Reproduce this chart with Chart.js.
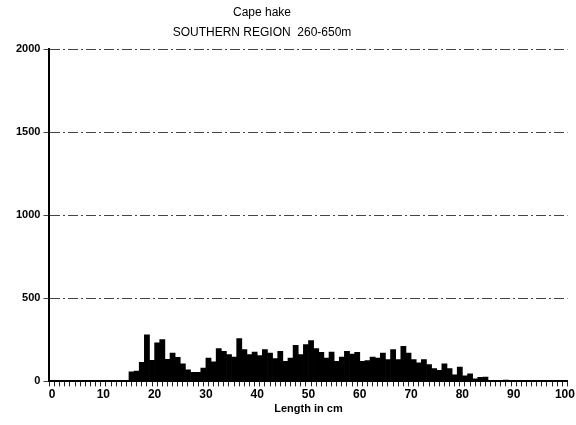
<!DOCTYPE html>
<html>
<head>
<meta charset="utf-8">
<script src="https://cdn.jsdelivr.net/npm/chart.js@4/dist/chart.umd.min.js"></script>
<style>
  body { margin: 0; background: #fff; }
  canvas { display: block; }
</style>
</head>
<body>
<canvas id="grafico" width="576" height="425"></canvas>
<script>
const titulo1 = 'Cape hake';
const titulo2 = 'SOUTHERN REGION  260-650m';

// length classes (cm), each bar covers class to class+1
const lengths = [
    0, 1, 2, 3, 4, 5, 6, 7, 8, 9,
    10, 11, 12, 13, 14, 15, 16, 17, 18, 19,
    20, 21, 22, 23, 24, 25, 26, 27, 28, 29,
    30, 31, 32, 33, 34, 35, 36, 37, 38, 39,
    40, 41, 42, 43, 44, 45, 46, 47, 48, 49,
    50, 51, 52, 53, 54, 55, 56, 57, 58, 59,
    60, 61, 62, 63, 64, 65, 66, 67, 68, 69,
    70, 71, 72, 73, 74, 75, 76, 77, 78, 79,
    80, 81, 82, 83, 84, 85, 86, 87, 88, 89,
    90, 91, 92, 93, 94, 95, 96, 97, 98, 99
];

const counts = [
    0, 0, 0, 0, 0, 0, 0, 0, 0, 0,
    0, 0, 0, 2, 6, 57, 62, 114, 280, 127,
    232, 252, 133, 171, 145, 105, 70, 54, 54, 80,
    141, 117, 197, 181, 161, 147, 258, 191, 161, 177,
    155, 191, 171, 137, 181, 121, 141, 217, 161, 222,
    246, 197, 175, 141, 177, 121, 147, 181, 165, 175,
    121, 125, 147, 141, 171, 131, 191, 131, 211, 171,
    131, 111, 131, 101, 77, 66, 105, 77, 40, 86,
    34, 46, 16, 24, 26, 5, 4, 6, 8, 4,
    3, 2, 3, 2, 1, 2, 1, 1, 1, 0
];

const yTicks = [0, 500, 1000, 1500, 2000];

const fonte = '"Liberation Sans", Arial, sans-serif';

const data = {
    datasets: [{
        label: 'Cape hake',
        backgroundColor: '#000',
        borderWidth: 0,
        barPercentage: 1.0,
        categoryPercentage: 1.0,
        data: lengths.map((l, i) => ({ x: l + 0.5, y: counts[i] })),
    }]
};

const tituloPlugin = {
    id: 'titulo',
    afterDraw(chart) {
        const ctx = chart.ctx;
        ctx.save();
        ctx.fillStyle = '#000';
        ctx.textAlign = 'center';
        ctx.textBaseline = 'middle';
        ctx.font = '12px ' + fonte;
        ctx.fillText(titulo1, 262, 13);
        ctx.fillText(titulo2, 262, 33);
        ctx.restore();
    }
};

const config = {
    type: 'bar',
    data: data,
    options: {
        responsive: false,
        animation: false,
        layout: { padding: { top: 49, left: 13, right: 8, bottom: 9 } },
        plugins: {
            legend: { display: false },
            tooltip: { enabled: false }
        },
        scales: {
            x: {
                type: 'linear',
                min: 0,
                max: 100,
                ticks: {
                    stepSize: 1,
                    autoSkip: false,
                    maxRotation: 0,
                    padding: 1,
                    color: '#000',
                    font: { family: fonte, size: 12, weight: 'bold' },
                    callback: (v) => (v % 10 === 0 ? String(v) : '')
                },
                grid: {
                    drawOnChartArea: false,
                    drawTicks: true,
                    tickLength: 5,
                    tickColor: '#222',
                    tickWidth: 1
                },
                border: { color: '#000', width: 2 },
                title: {
                    display: true,
                    text: 'Length in cm',
                    color: '#000',
                    padding: { top: 0, bottom: 0 },
                    font: { family: fonte, size: 11, weight: 'bold' }
                }
            },
            y: {
                min: 0,
                max: 2000,
                afterBuildTicks: (axis) => { axis.ticks = yTicks.map(v => ({ value: v })); },
                ticks: {
                    color: '#000',
                    padding: 3,
                    font: { family: fonte, size: 11, weight: 'bold' },
                    callback: (v) => String(v)
                },
                grid: {
                    color: (c) => (c.tick && c.tick.value === 0 ? 'rgba(0,0,0,0)' : '#444'),
                    lineWidth: 1,
                    tickLength: 6,
                    tickColor: '#444'
                },
                border: { color: '#000', width: 2, dash: [10, 3, 2, 3] }
            }
        }
    },
    plugins: [tituloPlugin]
};

const grafico = new Chart(
    document.getElementById('grafico'),
    config
);
</script>
</body>
</html>
